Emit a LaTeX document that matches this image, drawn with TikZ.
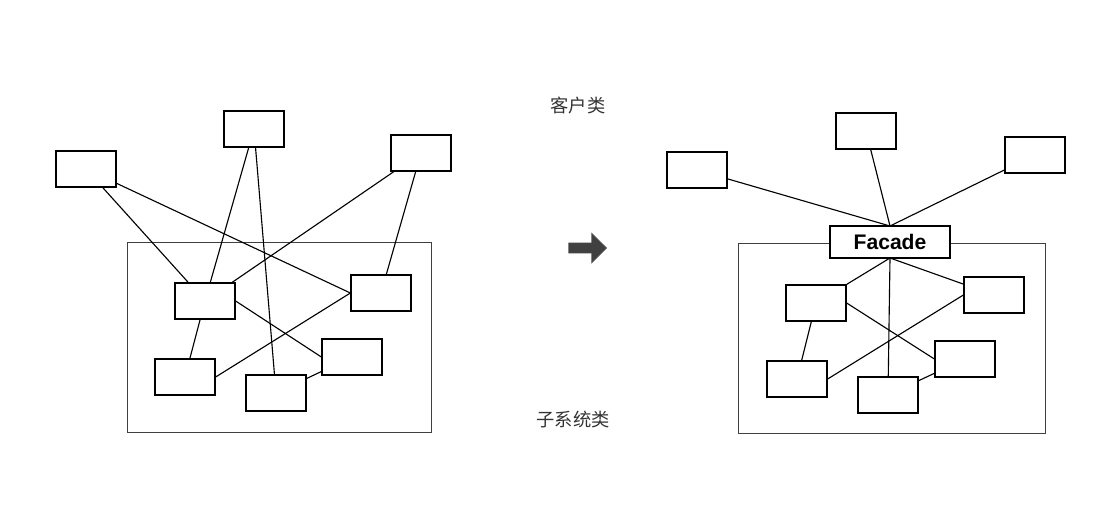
\documentclass[tikz,border=0pt]{standalone}
\usepackage{fontspec}
\newfontfamily\cjk{Noto Sans CJK SC}
\newfontfamily\facadefont{Liberation Sans}
\usetikzlibrary{shapes.arrows}

\begin{document}
\begin{tikzpicture}[
  x=0.025cm, y=-0.025cm,
  cls/.style={draw, line width=0.9pt, minimum width=1.5cm, minimum height=0.9cm, inner sep=0pt},
  sys/.style={draw=black!75, line width=0.7pt},
  link/.style={line width=0.8pt},
  lbl/.style={font=\cjk\fontsize{13}{15}\selectfont, text=black!80}
  ]
  \useasboundingbox (0,0) rectangle (1102,512);
  % left: clients talk to the subsystem directly
  \draw[sys] (127,242) rectangle (431,432);
  \node[cls] (la) at (86,169) {};
  \node[cls] (lb) at (254,129) {};
  \node[cls] (lc) at (421,153) {};
  \node[cls] (sa) at (205,301) {};
  \node[cls] (sb) at (381,293) {};
  \node[cls] (sc) at (185,377) {};
  \node[cls] (sd) at (276,393) {};
  \node[cls] (se) at (352,357) {};
  \draw[link] (la) -- (sa);
  \draw[link] (la) -- (sb.west);
  \draw[link] (lb) -- (sa);
  \draw[link] (lb) -- (sd);
  \draw[link] (lc) -- (sa);
  \draw[link] (lc) -- (sb);
  \draw[link] (sa) -- (sc);
  \draw[link] (sa.east) -- (se.west);
  \draw[link] (sb.west) -- (sc.east);
  \draw[link] (se) -- (sd);

  % labels and arrow
  \node[lbl] (client) at (578,106) {客户类};
  \node[lbl] (subsys) at (573,420) {子系统类};
  \node[single arrow, fill=black!75, draw=black!60, minimum width=0.75cm,
        single arrow head extend=0.08cm, minimum height=0.95cm, inner sep=1pt] (go) at (585,248) {};

  % right: clients talk to the facade
  \draw[sys] (738,243) rectangle (1045,433);
  \node[cls] (ra) at (697,170) {};
  \node[cls] (rb) at (866,131) {};
  \node[cls] (rc) at (1035,155) {};
  \node[cls] (ta) at (816,303) {};
  \node[cls] (tb) at (994,295) {};
  \node[cls] (tc) at (797,379) {};
  \node[cls] (td) at (888,395) {};
  \node[cls] (te) at (965,359) {};
  \draw[link] (ra) -- (890,226);
  \draw[link] (rb) -- (890,226);
  \draw[link] (rc) -- (890,226);
  \draw[link] (890,258) -- (ta);
  \draw[link] (890,258) -- (tb);
  \draw[link] (890,258) -- (td);
  \draw[link] (ta) -- (tc);
  \draw[link] (ta.east) -- (te.west);
  \draw[link] (tb.west) -- (tc.east);
  \draw[link] (te) -- (td);
  \node[draw, line width=2pt, fill=white, minimum width=3cm, minimum height=0.8cm,
        font=\facadefont\bfseries\fontsize{15}{17}\selectfont] (facade) at (890,242) {Facade};
\end{tikzpicture}
\end{document}
